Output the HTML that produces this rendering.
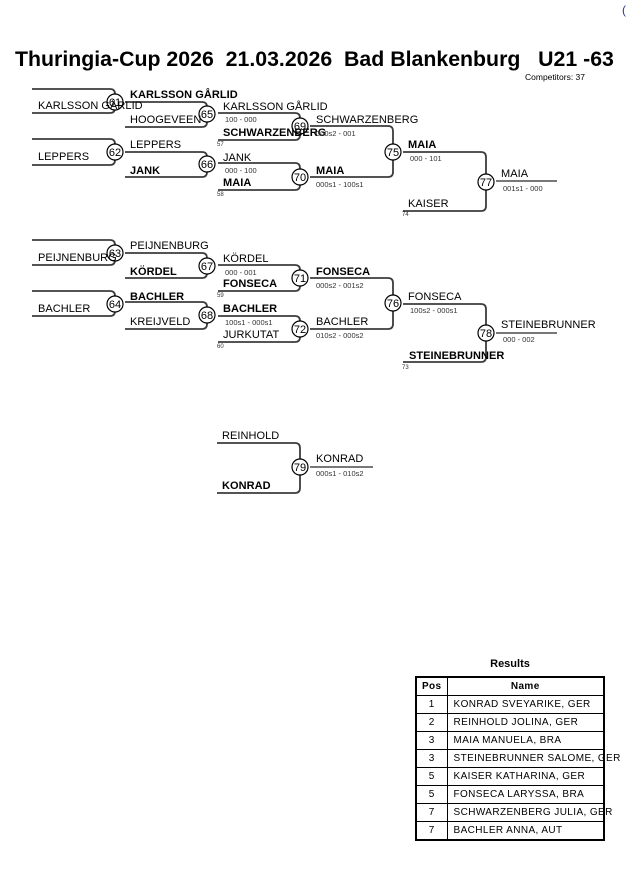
<!DOCTYPE html>
<html><head><meta charset="utf-8"><style>
html,body{margin:0;padding:0;background:#fff;width:630px;height:891px;overflow:hidden}
svg{display:block}
text{font-family:"Liberation Sans",Arial,sans-serif;fill:#000}
.n{font-size:11px;letter-spacing:0.05px}
.b{font-size:11px;font-weight:bold;letter-spacing:0.05px}
.s{font-size:7.5px;fill:#333}
.t{font-size:6px;fill:#333}
.br{fill:none;stroke:#3c3c3c;stroke-width:1.8}
.c{fill:#fff;stroke:#000;stroke-width:1.2}
.cn{font-size:11px;text-anchor:middle}
td{font-family:"Liberation Sans",Arial,sans-serif;font-size:10px;letter-spacing:0.4px;height:17px;padding:0;border:1px solid #000;white-space:nowrap}
</style></head><body>
<svg width="630" height="891" viewBox="0 0 630 891">
<text x="622" y="14" style="font-size:12px;fill:#2a3a8a">(</text>
<text x="15" y="66" style="font-size:21.3px;font-weight:bold" xml:space="preserve">Thuringia-Cup 2026  21.03.2026  Bad Blankenburg   U21 -63</text>
<text x="525" y="80" style="font-size:8.5px">Competitors: 37</text>

<g class="br">
<path d="M32,89 H110 Q115,89 115,94 V108 Q115,113 110,113 H32"/>
<path d="M32,139 H110 Q115,139 115,144 V160 Q115,165 110,165 H32"/>
<path d="M32,240 H110 Q115,240 115,245 V260 Q115,265 110,265 H32"/>
<path d="M32,291 H110 Q115,291 115,296 V311 Q115,316 110,316 H32"/>
<path d="M125,102 H202 Q207,102 207,107 V122 Q207,127 202,127 H125"/>
<path d="M125,152 H202 Q207,152 207,157 V172 Q207,177 202,177 H125"/>
<path d="M125,253 H202 Q207,253 207,258 V273 Q207,278 202,278 H125"/>
<path d="M125,302 H202 Q207,302 207,307 V324 Q207,329 202,329 H125"/>
<path d="M218,113 H295 Q300,113 300,118 V135 Q300,140 295,140 H218"/>
<path d="M218,163 H295 Q300,163 300,168 V185 Q300,190 295,190 H218"/>
<path d="M218,265 H295 Q300,265 300,270 V286 Q300,291 295,291 H218"/>
<path d="M218,316 H295 Q300,316 300,321 V337 Q300,342 295,342 H218"/>
<path d="M310,126 H388 Q393,126 393,131 V172 Q393,177 388,177 H310"/>
<path d="M310,278 H388 Q393,278 393,283 V324 Q393,329 388,329 H310"/>
<path d="M403,152 H481 Q486,152 486,157 V206 Q486,211 481,211 H403"/>
<path d="M403,304 H481 Q486,304 486,309 V357 Q486,362 481,362 H403"/>
<path d="M217,443 H295 Q300,443 300,448 V488 Q300,493 295,493 H217"/>
<path d="M496,181 H557 M496,333 H557 M310,467 H373" stroke="#666"/>
</g>

<g>
<circle class="c" cx="115" cy="102" r="8"/><text class="cn" x="115" y="106">61</text>
<circle class="c" cx="115" cy="152" r="8"/><text class="cn" x="115" y="156">62</text>
<circle class="c" cx="115" cy="253" r="8"/><text class="cn" x="115" y="257">63</text>
<circle class="c" cx="115" cy="304" r="8"/><text class="cn" x="115" y="308">64</text>
<circle class="c" cx="207" cy="114" r="8"/><text class="cn" x="207" y="118">65</text>
<circle class="c" cx="207" cy="164" r="8"/><text class="cn" x="207" y="168">66</text>
<circle class="c" cx="207" cy="266" r="8"/><text class="cn" x="207" y="270">67</text>
<circle class="c" cx="207" cy="315" r="8"/><text class="cn" x="207" y="319">68</text>
<circle class="c" cx="300" cy="126" r="8"/><text class="cn" x="300" y="130">69</text>
<circle class="c" cx="300" cy="177" r="8"/><text class="cn" x="300" y="181">70</text>
<circle class="c" cx="300" cy="278" r="8"/><text class="cn" x="300" y="282">71</text>
<circle class="c" cx="300" cy="329" r="8"/><text class="cn" x="300" y="333">72</text>
<circle class="c" cx="393" cy="152" r="8"/><text class="cn" x="393" y="156">75</text>
<circle class="c" cx="393" cy="303" r="8"/><text class="cn" x="393" y="307">76</text>
<circle class="c" cx="486" cy="182" r="8"/><text class="cn" x="486" y="186">77</text>
<circle class="c" cx="486" cy="333" r="8"/><text class="cn" x="486" y="337">78</text>
<circle class="c" cx="300" cy="467" r="8"/><text class="cn" x="300" y="471">79</text>
</g>

<text class="n" x="38" y="109">KARLSSON GÅRLID</text>
<text class="n" x="38" y="160">LEPPERS</text>
<text class="n" x="38" y="261">PEIJNENBURG</text>
<text class="n" x="38" y="312">BACHLER</text>

<text class="b" x="130" y="98">KARLSSON GÅRLID</text>
<text class="n" x="130" y="123">HOOGEVEEN</text>
<text class="n" x="130" y="148">LEPPERS</text>
<text class="b" x="130" y="174">JANK</text>
<text class="n" x="130" y="249">PEIJNENBURG</text>
<text class="b" x="130" y="275">KÖRDEL</text>
<text class="b" x="130" y="300">BACHLER</text>
<text class="n" x="130" y="325">KREIJVELD</text>

<text class="n" x="223" y="110">KARLSSON GÅRLID</text>
<text class="s" x="225" y="122">100 - 000</text>
<text class="b" x="223" y="136">SCHWARZENBERG</text>
<text class="t" x="217" y="146">57</text>
<text class="n" x="223" y="161">JANK</text>
<text class="s" x="225" y="173">000 - 100</text>
<text class="b" x="223" y="186">MAIA</text>
<text class="t" x="217" y="196">58</text>
<text class="n" x="223" y="262">KÖRDEL</text>
<text class="s" x="225" y="275">000 - 001</text>
<text class="b" x="223" y="287">FONSECA</text>
<text class="t" x="217" y="297">59</text>
<text class="b" x="223" y="312">BACHLER</text>
<text class="s" x="225" y="325">100s1 - 000s1</text>
<text class="n" x="223" y="338">JURKUTAT</text>
<text class="t" x="217" y="348">60</text>

<text class="n" x="316" y="123">SCHWARZENBERG</text>
<text class="s" x="316" y="136">000s2 - 001</text>
<text class="b" x="316" y="174">MAIA</text>
<text class="s" x="316" y="187">000s1 - 100s1</text>
<text class="b" x="316" y="275">FONSECA</text>
<text class="s" x="316" y="288">000s2 - 001s2</text>
<text class="n" x="316" y="325">BACHLER</text>
<text class="s" x="316" y="338">010s2 - 000s2</text>

<text class="b" x="408" y="148">MAIA</text>
<text class="s" x="410" y="161">000 - 101</text>
<text class="n" x="408" y="207">KAISER</text>
<text class="t" x="402" y="216">74</text>
<text class="n" x="408" y="300">FONSECA</text>
<text class="s" x="410" y="313">100s2 - 000s1</text>
<text class="b" x="409" y="359">STEINEBRUNNER</text>
<text class="t" x="402" y="369">73</text>

<text class="n" x="501" y="177">MAIA</text>
<text class="s" x="503" y="191">001s1 - 000</text>
<text class="n" x="501" y="328">STEINEBRUNNER</text>
<text class="s" x="503" y="342">000 - 002</text>

<text class="n" x="222" y="439">REINHOLD</text>
<text class="b" x="222" y="489">KONRAD</text>
<text class="n" x="316" y="462">KONRAD</text>
<text class="s" x="316" y="476">000s1 - 010s2</text>

<text x="510" y="667" style="font-size:11px;font-weight:bold;text-anchor:middle">Results</text>
<foreignObject x="415" y="676" width="215" height="165">
<table xmlns="http://www.w3.org/1999/xhtml" style="border-collapse:collapse;border:2px solid #000;width:190px;table-layout:fixed">
<col style="width:31px"/><col/>
<tr><td style="text-align:center;font-weight:bold">Pos</td><td style="text-align:center;font-weight:bold">Name</td></tr>
<tr><td style="text-align:center">1</td><td style="padding-left:6px">KONRAD SVEYARIKE, GER</td></tr>
<tr><td style="text-align:center">2</td><td style="padding-left:6px">REINHOLD JOLINA, GER</td></tr>
<tr><td style="text-align:center">3</td><td style="padding-left:6px">MAIA MANUELA, BRA</td></tr>
<tr><td style="text-align:center">3</td><td style="padding-left:6px;overflow:visible">STEINEBRUNNER SALOME, GER</td></tr>
<tr><td style="text-align:center">5</td><td style="padding-left:6px">KAISER KATHARINA, GER</td></tr>
<tr><td style="text-align:center">5</td><td style="padding-left:6px">FONSECA LARYSSA, BRA</td></tr>
<tr><td style="text-align:center">7</td><td style="padding-left:6px;overflow:visible">SCHWARZENBERG JULIA, GER</td></tr>
<tr><td style="text-align:center">7</td><td style="padding-left:6px">BACHLER ANNA, AUT</td></tr>
</table>
</foreignObject>
</svg>
</body></html>
